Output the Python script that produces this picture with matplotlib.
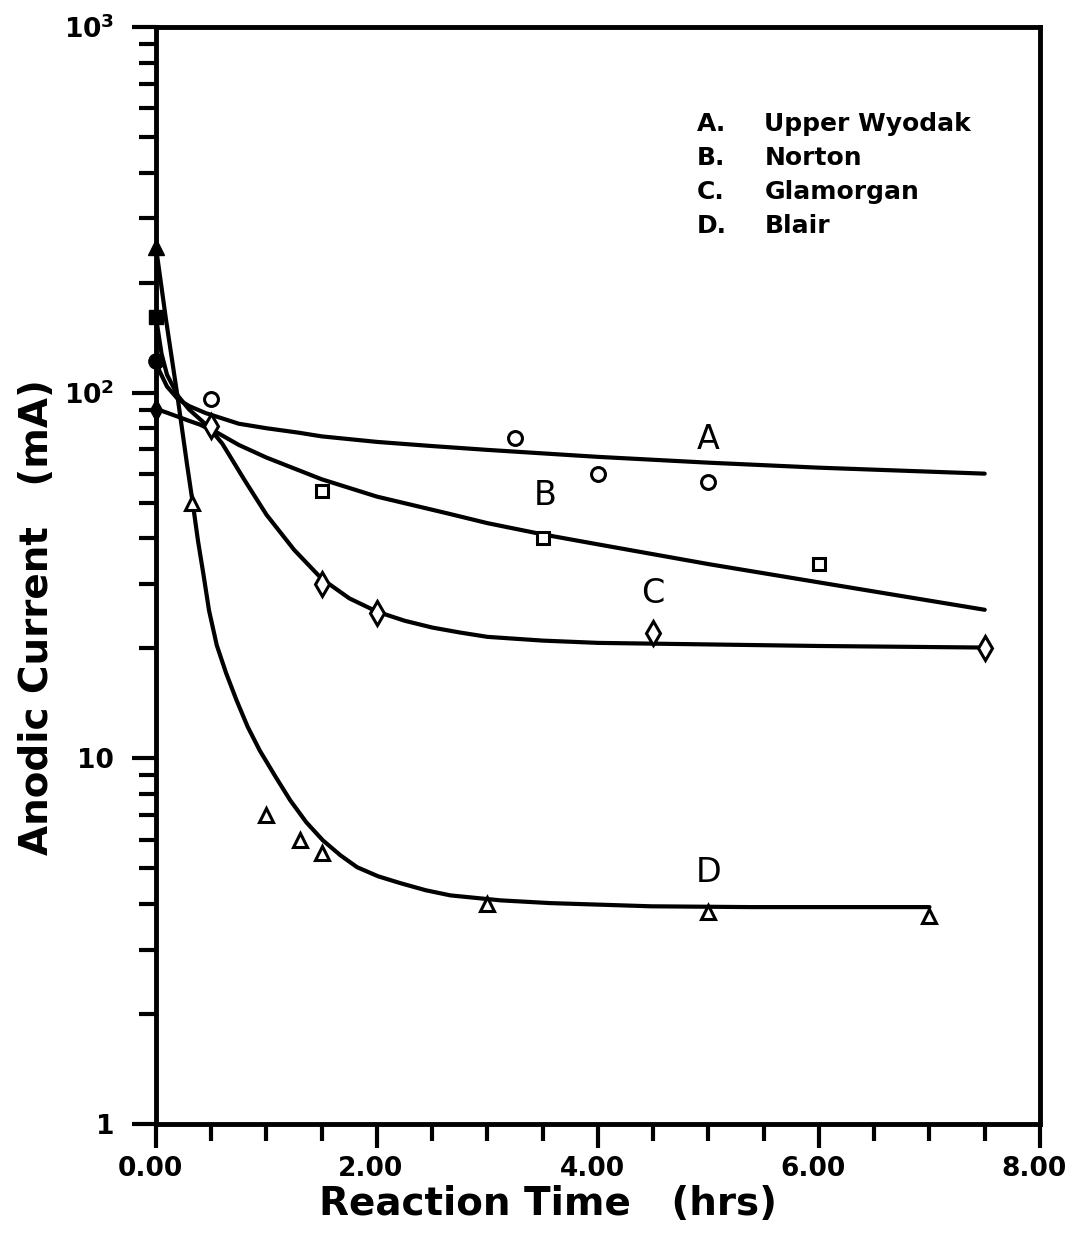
import matplotlib
matplotlib.use("Agg")
import matplotlib.pyplot as plt
import matplotlib.transforms as mtransforms
from matplotlib.ticker import FixedLocator, FixedFormatter, LogLocator, NullFormatter, MultipleLocator

# Measured points (reaction time in hrs, anodic current in mA)
a_time = [0.5, 3.25, 4.0, 5.0]
a_curr = [96, 75, 60, 57]
b_time = [1.5, 3.5, 6.0]
b_curr = [54, 40, 34]
c_time = [0.5, 1.5, 2.0, 4.5, 7.5]
c_curr = [81, 30, 25, 22, 20]
d_time = [0.33, 1.0, 1.3, 1.5, 3.0, 5.0, 7.0]
d_curr = [50, 7.0, 6.0, 5.5, 4.0, 3.8, 3.7]

# Initial currents at t = 0
start_curr = {"A": 122, "B": 161, "C": 90, "D": 250}

# Fitted curves
a_fit_t = [0, 0.03, 0.1, 0.2, 0.3, 0.45, 0.75, 1.0, 1.29, 1.5, 2.0, 2.5, 3.0, 4.0, 5.0, 6.0, 7.5]
a_fit_c = [122, 115, 104, 96, 92, 88, 82.3, 80, 77.8, 76, 73.4, 71.5, 69.8, 66.8, 64.4, 62.4, 60.1]
b_fit_t = [0, 0.05, 0.1, 0.2, 0.3, 0.5, 0.75, 1.0, 1.5, 2.0, 2.65, 3.0, 3.5, 4.0, 5.0, 6.0, 7.5]
b_fit_c = [161, 128, 112, 98, 90, 79.5, 72, 66.5, 58, 52, 46.7, 44, 41, 38.5, 34, 30.3, 25.5]
c_fit_t = [0, 0.1, 0.2, 0.3, 0.4, 0.5, 0.6, 0.7, 0.8, 1.0, 1.25, 1.5, 1.75, 2.0, 2.25, 2.5,
           2.75, 3.0, 3.5, 4.0, 5.0, 6.0, 7.5]
c_fit_c = [90.4, 88.2, 86.0, 83.8, 81.8, 79.0, 72.6, 64.8, 57.8, 46.4, 37.2, 31.0, 27.4, 25.2,
           23.8, 22.8, 22.1, 21.5, 21.0, 20.7, 20.5, 20.3, 20.1]
d_fit_t = [0, 0.09, 0.19, 0.28, 0.335, 0.38, 0.43, 0.48, 0.55, 0.635, 0.73, 0.83, 0.94, 1.08,
           1.215, 1.36, 1.51, 1.67, 1.82, 2.01, 2.21, 2.44, 2.665, 3.12, 3.57, 4.48, 5.39, 7.0]
d_fit_c = [250, 159, 100, 64, 49.4, 39.4, 31.8, 25.4, 20.4, 17.1, 14.4, 12.2, 10.5, 8.93,
           7.68, 6.69, 5.97, 5.43, 5.04, 4.76, 4.56, 4.36, 4.22, 4.09, 4.02, 3.94, 3.92, 3.92]

legend_keys = ["A.", "B.", "C.", "D."]
legend_names = ["Upper Wyodak", "Norton", "Glamorgan", "Blair"]

curve_labels = ["A", "B", "C", "D"]
curve_label_t = [5.0, 3.52, 4.5, 5.0]
curve_label_c = [74.4, 52.3, 28.2, 4.88]

y_ticks = [1, 10, 100, 1000]
y_ticklabels = ["1", "10", r"$\mathbf{10^{2}}$", r"$\mathbf{10^{3}}$"]
x_ticks = [0, 2, 4, 6, 8]
x_ticklabels = ["0.00", "2.00", "4.00", "6.00", "8.00"]

plt.rcParams["font.family"] = ["DejaVu Sans"]
plt.rcParams["mathtext.default"] = "bf"

fig = plt.figure(figsize=(10.75, 12.36), dpi=100)
ax = fig.add_axes([0.1451, 0.0906, 0.8223, 0.8874])

lw = 3.0
for t, c in [(a_fit_t, a_fit_c), (b_fit_t, b_fit_c), (c_fit_t, c_fit_c), (d_fit_t, d_fit_c)]:
    ax.plot(t, c, color="black", lw=lw, solid_joinstyle="round", solid_capstyle="round",
            clip_on=False, zorder=3)

mk = dict(linestyle="none", markerfacecolor="white", markeredgecolor="black",
          markeredgewidth=2.2, clip_on=False, zorder=4)
ax.plot(a_time, a_curr, marker="o", markersize=10, **mk)
ax.plot(b_time, b_curr, marker="s", markersize=9, **mk)
ax.plot(c_time, c_curr, marker="d", markersize=12, **mk)
ax.plot(d_time, d_curr, marker="^", markersize=10, **mk)

# Filled symbols at t = 0
for key, m, s in [("A", "o", 11), ("B", "s", 10), ("C", "d", 11), ("D", "^", 12)]:
    ax.plot([0], [start_curr[key]], marker=m, markersize=s, color="black",
            linestyle="none", clip_on=False, zorder=5)

ax.set_yscale("log")
ax.set_xlim(0, 8)
ax.set_ylim(1, 1000)

ax.yaxis.set_major_locator(FixedLocator(y_ticks))
ax.yaxis.set_major_formatter(FixedFormatter(y_ticklabels))
ax.yaxis.set_minor_locator(LogLocator(base=10, subs=range(2, 10)))
ax.yaxis.set_minor_formatter(NullFormatter())
ax.xaxis.set_major_locator(FixedLocator(x_ticks))
ax.xaxis.set_major_formatter(FixedFormatter(x_ticklabels))
ax.xaxis.set_minor_locator(MultipleLocator(0.5))

ax.tick_params(axis="both", which="major", direction="out", length=17, width=3.0,
               labelsize=19)
ax.tick_params(axis="x", which="major", pad=6)
ax.tick_params(axis="y", which="major", pad=13)
ax.tick_params(axis="both", which="minor", direction="out", length=12, width=3.0)
ax.tick_params(top=False, right=False, which="both")

shift = mtransforms.ScaledTranslation(-6 / 100, 0, fig.dpi_scale_trans)
for lab in ax.get_xticklabels():
    lab.set_fontweight("bold")
    lab.set_transform(lab.get_transform() + shift)
for lab in ax.get_yticklabels():
    lab.set_fontweight("bold")

for sp in ax.spines.values():
    sp.set_linewidth(3.5)

ax.set_xlabel("Reaction Time   (hrs)", fontsize=28, fontweight="bold")
ax.xaxis.set_label_coords(0.444, -0.056)
ax.set_ylabel("Anodic Current   (mA)", fontsize=28, fontweight="bold")
ax.yaxis.set_label_coords(-0.113, 0.462)

for t, c, s in zip(curve_label_t, curve_label_c, curve_labels):
    ax.text(t, c, s, fontsize=24, ha="center", va="center", zorder=6)

# Legend block as plain text
for i, (k, n) in enumerate(zip(legend_keys, legend_names)):
    y = 0.9 - i * 0.0277
    fig.text(0.648, y, k, fontsize=18, fontweight="bold", va="center", ha="left")
    fig.text(0.711, y, n, fontsize=18, fontweight="bold", va="center", ha="left")

fig.savefig("out.png", dpi=100, facecolor="white")
